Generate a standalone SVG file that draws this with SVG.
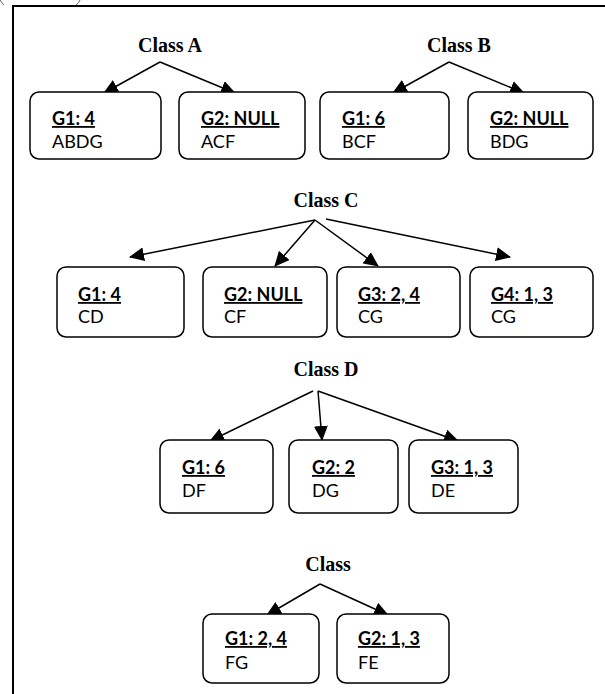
<svg xmlns="http://www.w3.org/2000/svg" width="605" height="694" viewBox="0 0 605 694">
<style>
.frame{stroke:#000;stroke-width:2;fill:none}
.box{fill:#fff;stroke:#000;stroke-width:1.5}
.cls{font-family:"Liberation Serif","Times New Roman",serif;font-weight:bold;font-size:20px;text-anchor:middle;fill:#000}
.g{font-family:Lato,"Liberation Sans",sans-serif;font-weight:bold;font-size:18px;text-decoration:underline;fill:#000}
.s{font-family:Lato,"Liberation Sans",sans-serif;font-size:18px;fill:#000}
.ln{stroke:#000;stroke-width:1.5;fill:none;marker-end:url(#ah)}
</style>
<defs>
<marker id="ah" markerUnits="userSpaceOnUse" viewBox="0 0 15 14" markerWidth="15" markerHeight="14" refX="14" refY="7" orient="auto"><path d="M0,0 L15,7 L0,14 z" fill="#000"/></marker>
</defs>
<rect width="605" height="694" fill="#fff"/>
<path class="frame" d="M13,694 L13,6 L605,6"/>
<path d="M0,0 Q2,3 4,5 M80,0 Q79,3 76,5" stroke="#666" stroke-width="1" fill="none"/>

<g id="titles">
<text class="cls" x="170" y="52">Class A</text>
<text class="cls" x="459" y="52">Class B</text>
<text class="cls" x="326" y="207">Class C</text>
<text class="cls" x="326" y="376">Class D</text>
<text class="cls" x="328" y="571">Class</text>
</g>

<g id="connectors">
<path class="ln" d="M160,62 L104,93"/>
<path class="ln" d="M160,62 L235,93"/>
<path class="ln" d="M449,62 L393,93"/>
<path class="ln" d="M449,62 L524,93"/>
<path class="ln" d="M315,220 L130,257"/>
<path class="ln" d="M315,220 L275,266"/>
<path class="ln" d="M315,220 L378,266"/>
<path class="ln" d="M326,219 L510,257"/>
<path class="ln" d="M313,391 L210,441"/>
<path class="ln" d="M318,391 L322,440"/>
<path class="ln" d="M318,391 L458,441"/>
<path class="ln" d="M320,584 L267,615"/>
<path class="ln" d="M320,584 L388,615"/>
</g>

<g id="A1"><rect class="box" x="30" y="92" width="131" height="67" rx="9"/><text class="g" x="52" y="125">G1: 4</text><text class="s" x="52" y="148">ABDG</text></g>
<g id="A2"><rect class="box" x="179" y="92" width="126" height="67" rx="9"/><text class="g" x="201" y="125">G2: NULL</text><text class="s" x="201" y="148">ACF</text></g>
<g id="B1"><rect class="box" x="320" y="92" width="129" height="67" rx="9"/><text class="g" x="342" y="125">G1: 6</text><text class="s" x="342" y="148">BCF</text></g>
<g id="B2"><rect class="box" x="468" y="92" width="125" height="67" rx="9"/><text class="g" x="490" y="125">G2: NULL</text><text class="s" x="490" y="148">BDG</text></g>

<g id="C1"><rect class="box" x="57" y="267" width="127" height="70" rx="9"/><text class="g" x="78" y="301">G1: 4</text><text class="s" x="78" y="323">CD</text></g>
<g id="C2"><rect class="box" x="203" y="267" width="124" height="70" rx="9"/><text class="g" x="224" y="301">G2: NULL</text><text class="s" x="224" y="323">CF</text></g>
<g id="C3"><rect class="box" x="337" y="267" width="123" height="70" rx="9"/><text class="g" x="358" y="301">G3: 2, 4</text><text class="s" x="358" y="323">CG</text></g>
<g id="C4"><rect class="box" x="470" y="267" width="123" height="70" rx="9"/><text class="g" x="491" y="301">G4: 1, 3</text><text class="s" x="491" y="323">CG</text></g>

<g id="D1"><rect class="box" x="160" y="440" width="113" height="73" rx="9"/><text class="g" x="182" y="474">G1: 6</text><text class="s" x="182" y="497">DF</text></g>
<g id="D2"><rect class="box" x="289" y="440" width="109" height="73" rx="9"/><text class="g" x="312" y="474">G2: 2</text><text class="s" x="312" y="497">DG</text></g>
<g id="D3"><rect class="box" x="409" y="440" width="109" height="73" rx="9"/><text class="g" x="431" y="474">G3: 1, 3</text><text class="s" x="431" y="497">DE</text></g>

<g id="E1"><rect class="box" x="203" y="614" width="116" height="69" rx="9"/><text class="g" x="225" y="645">G1: 2, 4</text><text class="s" x="225" y="669">FG</text></g>
<g id="E2"><rect class="box" x="337" y="614" width="112" height="69" rx="9"/><text class="g" x="358" y="645">G2: 1, 3</text><text class="s" x="358" y="669">FE</text></g>
</svg>
